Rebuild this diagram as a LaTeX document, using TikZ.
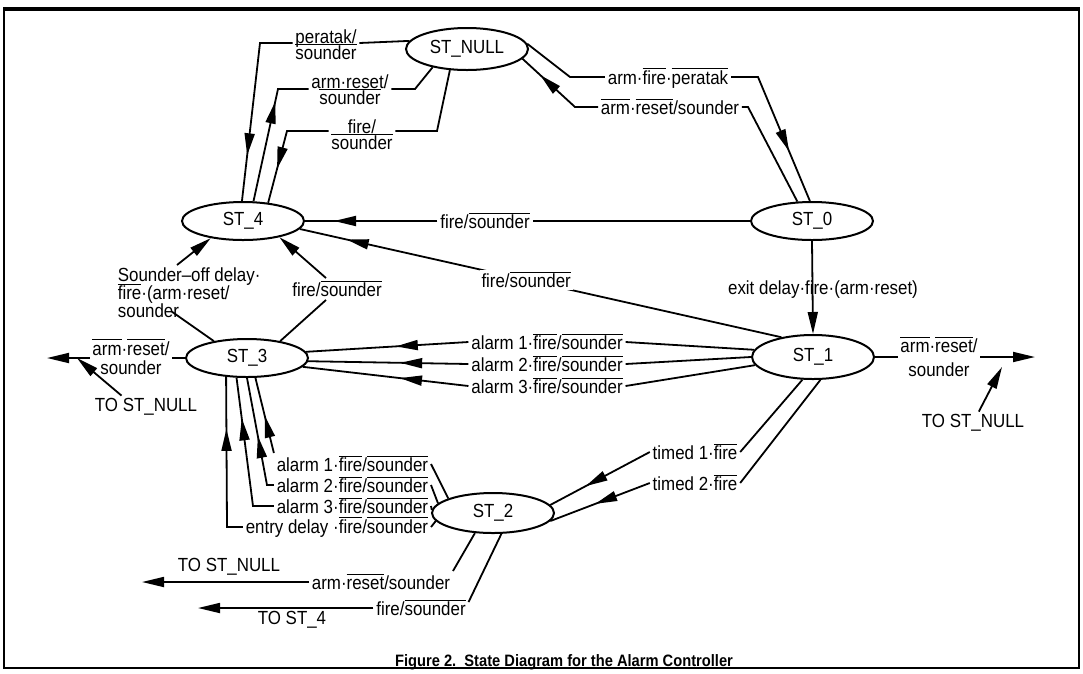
\documentclass[tikz,border=0pt]{standalone}
\usepackage{fontspec}
\setmainfont[FakeStretch=0.89]{Liberation Sans}
\usetikzlibrary{arrows.meta,decorations.markings,shapes.geometric,calc}
\newcommand{\myol}[1]{\leavevmode\vbox{\hrule height 0.9pt\kern 1.3pt\hbox{\vphantom{fd}#1}}}
\tikzset{
  st/.style={ellipse, draw, line width=2pt, minimum width=122pt, minimum height=#1, inner sep=0pt},
  st/.default=39pt,
  lbl/.style={inner sep=2pt},
  tipA/.style={-{Triangle[length=22pt,width=10pt]}},
  arrowat/.style={postaction={decorate}, decoration={markings, mark=at position #1 with {\arrow{Triangle[length=22pt,width=10pt]}}}},
}
\begin{document}
\begin{tikzpicture}[x=1pt,y=-1pt,font=\fontsize{19}{22}\selectfont,line width=1.8pt]
\useasboundingbox (0,0) rectangle (1083,673);
\draw[line width=2pt] (4,9) rectangle (1079,668);
\draw[line width=3.5pt] (3,9) -- (1080,9);

% states
\node[st=42pt] (NULL) at (467,49) {ST\_NULL};
\node[st=38pt] (S0) at (812,221) {ST\_0};
\node[st=38pt] (S4) at (243,221) {ST\_4};
\node[st=38pt] (S3) at (247,358) {ST\_3};
\node[st=44pt] (S1) at (813,357) {ST\_1};
\node[st=40pt] (S2) at (493,513) {ST\_2};

% ST_NULL -> ST_4 : peratak/sounder
\node[lbl,align=center] (Lp) at (326,45) {peratak/\\[-6pt]\myol{sounder}};
\coordinate (Bp) at (260,43);
\draw (NULL.172) -- (Lp.east |- Bp);
\draw[arrowat=-46pt] (Lp.west |- Bp) -- (Bp) -- (S4.93);

% ST_4 -> ST_NULL : arm.reset/sounder
\node[lbl,align=center] (Lar) at (350,90) {arm·reset/\\[-6pt]\myol{sounder}};
\coordinate (Bar1) at (278,89);
\coordinate (Bar2) at (415,89);
\draw[arrowat=102pt] (S4.62) -- (Bar1) -- (Lar.west |- Bar1);
\draw (Lar.east |- Bar2) -- (Bar2) -- (NULL.208);

% ST_NULL -> ST_4 : fire/sounder
\node[lbl,align=center] (Lf) at (362,135) {fire/\\[-6pt]\myol{sounder}};
\coordinate (Bf1) at (437,131);
\coordinate (Bf2) at (287,131);
\draw (NULL.231) -- (Bf1) -- (Lf.east |- Bf1);
\draw[arrowat=-35pt] (Lf.west |- Bf2) -- (Bf2) -- (S4.36);

% ST_NULL -> ST_0
\node[lbl] (Lafp) at (668,78) {arm·\myol{fire}·\myol{peratak}};
\coordinate (Ba1) at (570,77);
\coordinate (Ba2) at (758,77);
\draw (NULL.5) -- (Ba1) -- (Lafp.west |- Ba1);
\draw[arrowat=-54pt] (Lafp.east |- Ba2) -- (Ba2) -- (S0.96);

% ST_0 -> ST_NULL
\node[lbl] (Laa) at (670,107) {\myol{arm}·\myol{reset}/sounder};
\coordinate (Bb1) at (748,107);
\coordinate (Bb2) at (575,107);
\draw (S0.127) -- (Bb1) -- (Laa.east |- Bb1);
\draw[arrowat=-24pt] (Laa.west |- Bb2) -- (Bb2) -- (NULL.350);

% ST_0 -> ST_4
\node[lbl] (Lfs0) at (485,221) {fire/\myol{sounder}};
\draw (S0.west) -- (Lfs0.east |- S0.west);
\draw[arrowat=-29pt] (Lfs0.west |- S4.east) -- (S4.east);

% ST_0 -> ST_1
\draw[tipA] (S0.south) -- (S1.north);
\node[lbl] (Lex) at (823,290) {exit delay·fire·(arm·reset)};

% ST_1 -> ST_4
\draw[arrowat=-48pt] (S1.148) -- node[lbl,fill=white,pos=0.53] (Lfs1) {fire/\myol{sounder}} (S4.352);

% ST_3 -> ST_4 : fire/sounder
\node[lbl] (Lfs3) at (337,289) {fire/\myol{sounder}};
\draw (S3.27) -- ([xshift=-11pt]Lfs3.south);
\draw[tipA] ([xshift=-11pt]Lfs3.north) -- (S4.336);

% ST_3 -> ST_4 : Sounder-off delay
\node[lbl,align=left,anchor=north west] (Lso) at (115,265) {Sounder–off delay·\\[-4pt]\myol{fire}·(arm·reset/\\[-4pt]sounder};
\draw (S3.153) -- ([xshift=57pt,yshift=9pt]Lso.south west);
\draw[tipA] ([xshift=62pt]Lso.north west) -- (S4.208);

% ST_1 -> ST_3
\node[lbl] (La1) at (547,342) {alarm 1·\myol{fire}/\myol{sounder}};
\node[lbl] (La2) at (547,364) {alarm 2·\myol{fire}/\myol{sounder}};
\node[lbl] (La3) at (547,386) {alarm 3·\myol{fire}/\myol{sounder}};
\draw (S1.173) -- (La1.east);
\draw[arrowat=-90pt] (La1.west) -- (S3.6);
\draw (S1.180) -- (La2.east);
\draw[arrowat=-92pt] (La2.west) -- (S3.357);
\draw (S1.188) -- (La3.east);
\draw[arrowat=-98pt] (La3.west) -- (S3.351);

% ST_2 -> ST_3
\node[lbl,anchor=east] (Lb1) at (431,464) {alarm 1·\myol{fire}/\myol{sounder}};
\node[lbl,anchor=east] (Lb2) at (431,485) {alarm 2·\myol{fire}/\myol{sounder}};
\node[lbl,anchor=east] (Lb3) at (431,506) {alarm 3·\myol{fire}/\myol{sounder}};
\node[lbl,anchor=east] (Lb4) at (431,527) {entry delay ·\myol{fire}/\myol{sounder}};
\coordinate (Bc2) at (267,485);
\coordinate (Bc3) at (253,506);
\coordinate (Bc4) at (227,527);
\draw (S2.162) -- (Lb1.east);
\draw[arrowat=-39pt] (Lb1.north west) -- (S3.293);
\draw (S2.170) -- (Lb2.east);
\draw[arrowat=-59pt] (Lb2.west) -- (Bc2) -- (S3.270);
\draw (S2.177) -- (Lb3.east);
\draw[arrowat=-41pt] (Lb3.west) -- (Bc3) -- (S3.242);
\draw (S2.188) -- (Lb4.east);
\draw[arrowat=-52pt] (Lb4.west) -- (Bc4) -- (S3.222);

% ST_1 -> ST_2
\node[lbl] (Lt1) at (695,452) {timed 1·\myol{fire}};
\node[lbl] (Lt2) at (695,483) {timed 2·\myol{fire}};
\draw (S1.245) -- (Lt1.east);
\draw[arrowat=-40pt] (Lt1.west) -- (S2.8);
\draw (S1.288) -- (Lt2.east);
\draw[arrowat=-48pt] (Lt2.west) -- (S2.352);

% ST_2 -> off page
\node[lbl] (Lc1) at (381,582) {arm·\myol{reset}/sounder};
\node[lbl] (Tc1) at (229,567) {TO ST\_NULL};
\coordinate (Ec1) at (142,582);
\draw (S2.228) -- (Lc1.north east);
\draw[tipA] (Lc1.west) -- (Lc1.west -| Ec1);
\node[lbl] (Lc2) at (421,608) {fire/\myol{sounder}};
\node[lbl] (Tc2) at (292,620) {TO ST\_4};
\coordinate (Ec2) at (198,607);
\draw (S2.292) -- ([yshift=-5pt]Lc2.north east);
\draw[tipA] (Lc2.west) -- (Lc2.west -| Ec2);

% ST_3 -> off page
\node[lbl,align=center] (Ld) at (131,357) {\myol{arm}·\myol{reset}/\\[-3pt]sounder};
\coordinate (Ed) at (47,358);
\draw (S3.west) -- (Ld.east |- S3.west);
\draw[tipA] (Ld.west |- S3.west) -- (Ed);
\node[lbl] (Td) at (146,407) {TO ST\_NULL};
\coordinate (Ed2) at (77,358);
\draw[tipA] (Td.155) -- (Ed2);

% ST_1 -> off page
\node[lbl,align=center] (Le) at (939,357) {\myol{arm}·\myol{reset}/\\[2pt]sounder};
\coordinate (Ee) at (1035,357);
\draw (S1.east) -- (Le.west |- S1.east);
\draw[tipA] (Le.east |- S1.east) -- (Ee);
\node[lbl] (Te) at (973,423) {TO ST\_NULL};
\coordinate (Ee2) at (1002,367);
\draw[tipA] (Te.63) -- (Ee2);

% caption
\node[font=\bfseries\fontsize{16.5}{20}\selectfont] (cap) at (564,662) {Figure 2.\ \ State Diagram for the Alarm Controller};
\end{tikzpicture}
\end{document}
